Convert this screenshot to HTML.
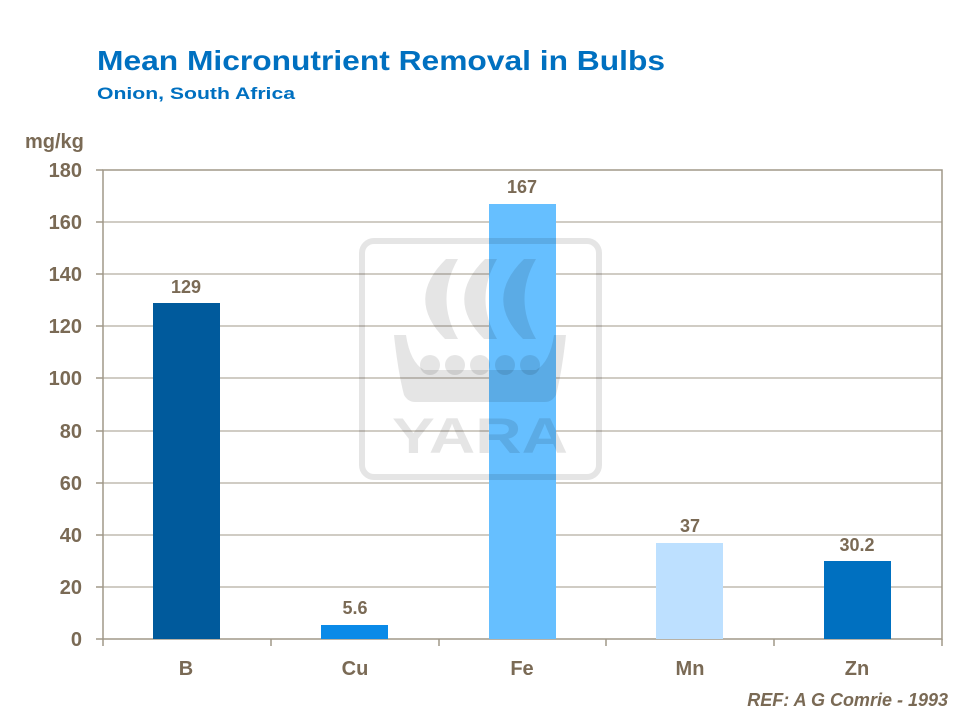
<!DOCTYPE html>
<html><head><meta charset="utf-8"><style>
body{margin:0;background:#fff;}
svg{display:block;font-family:"Liberation Sans",Arial,sans-serif;}
</style></head><body>
<svg width="960" height="720" viewBox="0 0 960 720">
<text x="97" y="70" font-size="28" font-weight="bold" fill="#0070c0" textLength="568" lengthAdjust="spacingAndGlyphs">Mean Micronutrient Removal  in Bulbs</text>
<text x="97" y="99" font-size="17" font-weight="bold" fill="#0070c0" textLength="198" lengthAdjust="spacingAndGlyphs">Onion,  South Africa</text>
<text x="25" y="148" font-size="20" font-weight="bold" fill="#7a6a55">mg/kg</text>
<g stroke="#a09888" stroke-width="1">
<line x1="103" y1="222" x2="942" y2="222"/><line x1="103" y1="274" x2="942" y2="274"/>
<line x1="103" y1="326" x2="942" y2="326"/><line x1="103" y1="378" x2="942" y2="378"/>
<line x1="103" y1="431" x2="942" y2="431"/><line x1="103" y1="483" x2="942" y2="483"/>
<line x1="103" y1="535" x2="942" y2="535"/><line x1="103" y1="587" x2="942" y2="587"/>
</g>
<rect x="103" y="170" width="839" height="469" fill="none" stroke="#a09888" stroke-width="1.5"/>
<g stroke="#a09888" stroke-width="1.5">
<line x1="96" y1="170" x2="103" y2="170"/><line x1="96" y1="222" x2="103" y2="222"/><line x1="96" y1="274" x2="103" y2="274"/><line x1="96" y1="326" x2="103" y2="326"/><line x1="96" y1="378" x2="103" y2="378"/><line x1="96" y1="431" x2="103" y2="431"/><line x1="96" y1="483" x2="103" y2="483"/><line x1="96" y1="535" x2="103" y2="535"/><line x1="96" y1="587" x2="103" y2="587"/><line x1="96" y1="639" x2="103" y2="639"/>
<line x1="103" y1="639" x2="103" y2="646"/><line x1="271" y1="639" x2="271" y2="646"/><line x1="439" y1="639" x2="439" y2="646"/><line x1="606" y1="639" x2="606" y2="646"/><line x1="774" y1="639" x2="774" y2="646"/><line x1="942" y1="639" x2="942" y2="646"/>
</g>
<g font-size="20" font-weight="bold" fill="#7a6a55" text-anchor="end">
<text x="82" y="177">180</text><text x="82" y="229">160</text><text x="82" y="281">140</text><text x="82" y="333">120</text><text x="82" y="385">100</text><text x="82" y="438">80</text><text x="82" y="490">60</text><text x="82" y="542">40</text><text x="82" y="594">20</text><text x="82" y="646">0</text>
</g>
<rect x="153" y="303" width="67" height="336" fill="#005a9c"/>
<rect x="321" y="625" width="67" height="14" fill="#0a8ae8"/>
<rect x="489" y="204" width="67" height="435" fill="#66bfff"/>
<rect x="656" y="543" width="67" height="96" fill="#bde0ff"/>
<rect x="824" y="561" width="67" height="78" fill="#0070c0"/>
<g font-size="18" font-weight="bold" fill="#7a6a55" text-anchor="middle">
<text x="186" y="293">129</text><text x="355" y="614">5.6</text><text x="522" y="193">167</text><text x="690" y="532">37</text><text x="857" y="551">30.2</text>
</g>
<g font-size="20" font-weight="bold" fill="#7a6a55" text-anchor="middle">
<text x="186" y="675">B</text><text x="355" y="675">Cu</text><text x="522" y="675">Fe</text><text x="690" y="675">Mn</text><text x="857" y="675">Zn</text>
</g>
<text x="948" y="706" font-size="18" font-weight="bold" font-style="italic" fill="#7a6a55" text-anchor="end">REF: A G Comrie - 1993</text>
<g fill="rgba(0,0,0,0.1)">
<rect x="362" y="241" width="237" height="236" rx="12" fill="none" stroke="rgba(0,0,0,0.1)" stroke-width="6"/>
<path d="M458 259 L446 259 Q405 299 445 339 L458 339 Q435 299 458 259Z"/>
<path d="M497 259 L485 259 Q444 299 484 339 L497 339 Q474 299 497 259Z"/>
<path d="M536 259 L524 259 Q483 299 523 339 L536 339 Q513 299 536 259Z"/>
<path d="M394 335 L406 335 Q410 362 424 370 L536 370 Q550 362 554 335 L566 335 Q562 372 556 395 Q552 402 545 402 L415 402 Q408 402 404 395 Q398 372 394 335Z"/>
<circle cx="430" cy="365" r="10"/><circle cx="455" cy="365" r="10"/><circle cx="480" cy="365" r="10"/><circle cx="505" cy="365" r="10"/><circle cx="530" cy="365" r="10"/>
<text x="480" y="453" font-size="50" font-weight="bold" text-anchor="middle" textLength="176" lengthAdjust="spacingAndGlyphs">YARA</text>
</g>
</svg>
</body></html>
